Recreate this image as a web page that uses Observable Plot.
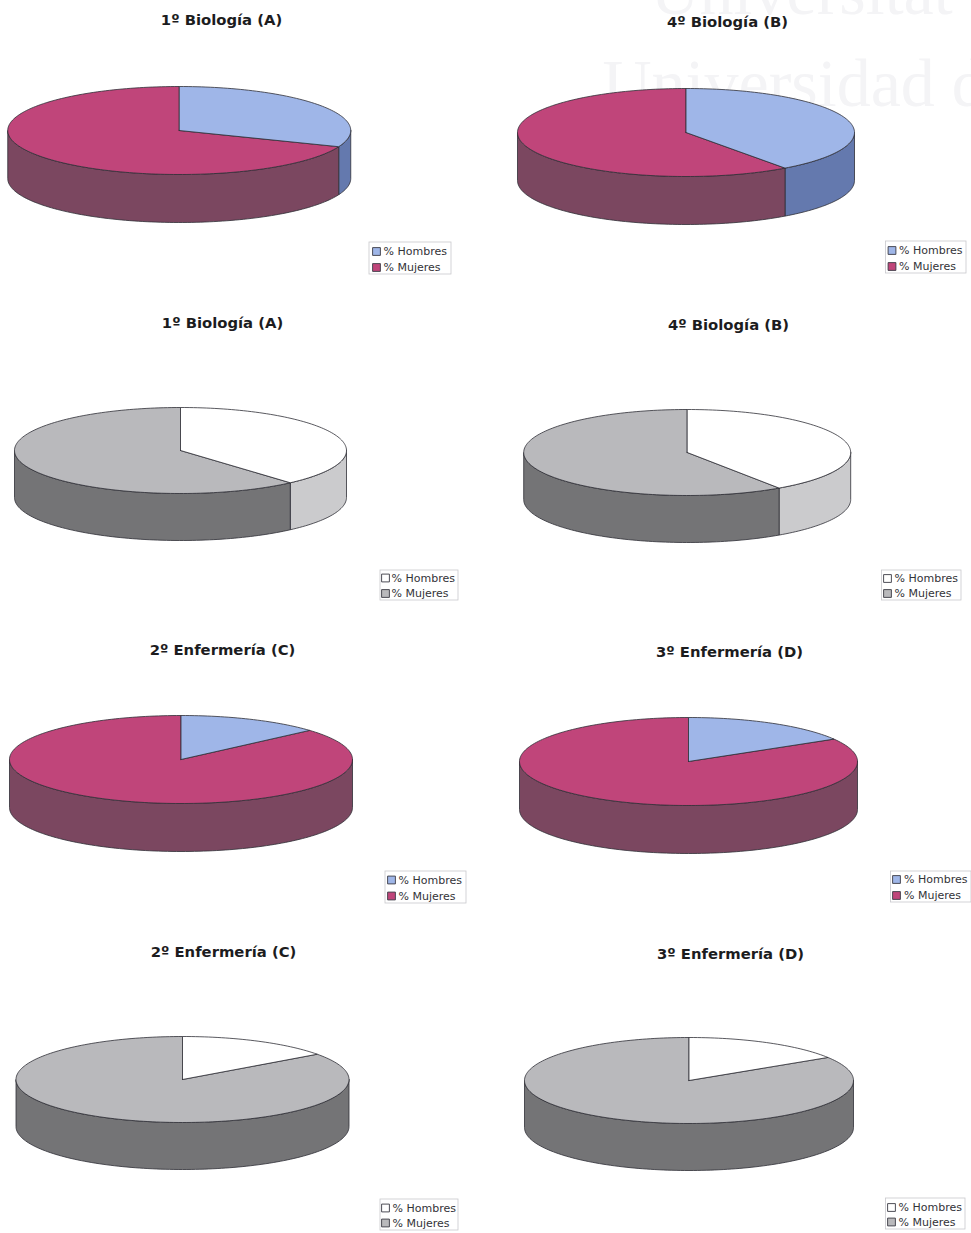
<!DOCTYPE html>
<html lang="es">
<head>
<meta charset="utf-8">
<title>Distribución por sexo en cada grupo</title>
<script src="https://cdn.jsdelivr.net/npm/d3@7"></script>
<script src="https://cdn.jsdelivr.net/npm/@observablehq/plot@0.6"></script>
<style>
  html, body { margin: 0; padding: 0; background: #fff; }
  svg { display: block; }
</style>
</head>
<body>
<div id="chart"></div>
<script>
// Percentages per group, one entry per pie
const panelTitles = [
  "1º Biología (A)", "4º Biología (B)",
  "1º Biología (A)", "4º Biología (B)",
  "2º Enfermería (C)", "3º Enfermería (D)",
  "2º Enfermería (C)", "3º Enfermería (D)"
];
const hombres = [31, 40, 38.5, 40.5, 13.5, 16.5, 15, 16];
const mujeres = [69, 60, 61.5, 59.5, 86.5, 83.5, 85, 84];
const seriesLabels = ["% Hombres", "% Mujeres"];
const palettes = ["color", "grey", "color", "grey"];

// Page layout of each pie: ellipse centre, radii, thickness
const centreX = [178.75, 685.5, 180, 686.7, 180.5, 688, 182, 688.5];
const centreY = [130, 132, 450, 452, 759, 761, 1079, 1080];
const radiusX = [171.5, 168.5, 166, 163.5, 171.5, 169, 166.5, 164.5];
const radiusY = [44, 44, 43, 43, 44, 44, 43, 43];
const depth = [48, 48, 47, 47, 48, 48, 47, 47];
const titleX = [221, 727, 222, 728, 222, 729, 223, 730];
const titleY = [20, 22, 323, 325, 650, 652, 952, 954];

// Page layout of each legend: box corners, swatch column, text column, row baselines
const boxLeft = [369, 885.5, 380, 881.5, 385, 890.5, 380, 885.5];
const boxRight = [451, 966, 458, 961, 466, 971, 458, 965];
const boxTop = [242, 241, 570, 570, 871, 871, 1199, 1198];
const boxBottom = [274, 273, 600, 600, 903, 902, 1230, 1229];
const swatchX = [376, 891.5, 385, 887, 391, 896, 385, 891];
const labelX = [383, 898.5, 391, 894, 398, 903.5, 392, 898];
const rowOne = [251, 250, 577.5, 578, 879.5, 879, 1207.5, 1207];
const rowTwo = [267, 266, 593, 593, 895.5, 895, 1222.5, 1221.5];

// Parts of a pie and their fills
const partNames = [
  "color-0-top", "color-1-top", "color-0-side", "color-1-side",
  "grey-0-top", "grey-1-top", "grey-0-side", "grey-1-side"
];
const partFills = [
  "#9fb6e8", "#c0457a", "#6479ae", "#7b4760",
  "#ffffff", "#b9b9bc", "#cbcbcd", "#747476"
];
const watermark = ["Universitat", "Universidad de"];

const rad = Math.PI / 180;

// Point on an ellipse; the angle runs clockwise from twelve o'clock
function rim(p, deg, drop = 0) {
  return {
    x: centreX[p] + radiusX[p] * Math.sin(deg * rad),
    y: centreY[p] - radiusY[p] * Math.cos(deg * rad) + drop
  };
}

function arc(p, from, to, drop = 0) {
  const steps = Math.max(2, Math.ceil(Math.abs(to - from) / 1.5));
  return d3.range(steps + 1).map(i => rim(p, from + (to - from) * i / steps, drop));
}

const outlines = [];
function pushShape(key, part, points) {
  const closed = [...points, points[0]];
  closed.forEach(pt => outlines.push({...pt, key, part}));
}

panelTitles.forEach((_, p) => {
  const palette = palettes[Math.floor(p / 2)];
  const split = 360 * hombres[p] / (hombres[p] + mujeres[p]);

  // Front wall: only the part of the rim between 90° and 270° faces the viewer
  const wall = (s, a, b) => {
    if (b <= a) return;
    pushShape(`${p}-wall-${s}`, `${palette}-${s}-side`,
      [...arc(p, a, b), ...arc(p, b, a, depth[p])]);
  };
  wall(0, 90, split);
  wall(1, Math.max(90, split), 270);

  // Top face: two wedges meeting at the centre
  const hub = {x: centreX[p], y: centreY[p]};
  pushShape(`${p}-top-1`, `${palette}-1-top`, [hub, ...arc(p, split, 360)]);
  pushShape(`${p}-top-0`, `${palette}-0-top`, [hub, ...arc(p, 0, split)]);
});

const panels = panelTitles.map((title, p) => ({title, p}));

const legendRows = panels.flatMap(({p}) => seriesLabels.map((label, s) => ({
  label,
  x: swatchX[p],
  tx: labelX[p],
  y: s === 0 ? rowOne[p] : rowTwo[p],
  part: `${palettes[Math.floor(p / 2)]}-${s}-top`
})));

const chart = Plot.plot({
  width: 971,
  height: 1233,
  margin: 0,
  x: {domain: [0, 971], range: [0, 971], axis: null},
  y: {domain: [0, 1233], range: [0, 1233], axis: null},
  color: {domain: partNames, range: partFills},
  marks: [
    // Faint library heading that shows through the printed page
    Plot.text(watermark, {
      x: [650, 602],
      y: [13, 105],
      text: d => d,
      textAnchor: "start",
      lineAnchor: "bottom",
      fontFamily: "Liberation Serif",
      fontSize: 68,
      fill: "#f4f4f6"
    }),
    Plot.line(outlines, {
      x: "x",
      y: "y",
      z: "key",
      fill: "part",
      stroke: "#2e2e36",
      strokeWidth: 0.8,
      strokeLinejoin: "round"
    }),
    Plot.text(panels, {
      x: d => titleX[d.p],
      y: d => titleY[d.p],
      text: "title",
      fontFamily: "DejaVu Sans",
      fontWeight: "bold",
      fontSize: 14.8,
      fill: "#1c1c1e"
    }),
    Plot.rect(panels, {
      x1: d => boxLeft[d.p],
      x2: d => boxRight[d.p],
      y1: d => boxTop[d.p],
      y2: d => boxBottom[d.p],
      fill: "none",
      stroke: "#c8c8cc",
      strokeWidth: 0.8
    }),
    Plot.dot(legendRows, {
      x: "x",
      y: "y",
      symbol: "square",
      r: 4.4,
      fill: "part",
      stroke: "#3a3a44",
      strokeWidth: 0.9
    }),
    Plot.text(legendRows, {
      x: "tx",
      y: "y",
      text: "label",
      textAnchor: "start",
      fontFamily: "DejaVu Sans",
      fontSize: 11,
      fill: "#333338"
    })
  ]
});

document.getElementById("chart").append(chart);
</script>
</body>
</html>
